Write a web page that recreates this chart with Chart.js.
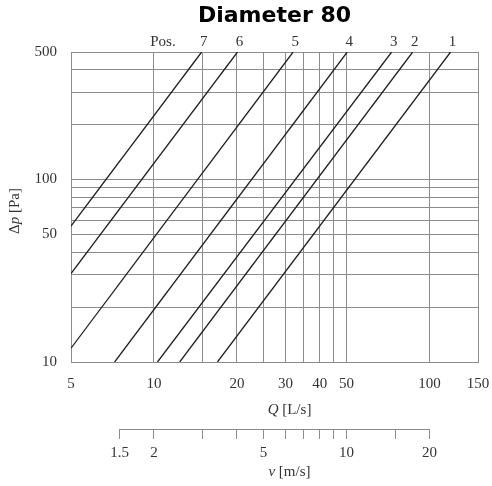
<!DOCTYPE html>
<html lang="en">
<head>
<meta charset="UTF-8">
<title>Diameter 80</title>
<script src="https://cdn.jsdelivr.net/npm/chart.js"></script>
<style>
  * { margin: 0; padding: 0; box-sizing: border-box; }
  body { background: #fff; }
</style>
</head>
<body>
<canvas id="chart" width="492" height="486"></canvas>
<script>
// curve numbers and the two ends of each line (Q in L/s, dp in Pa)
const positions = ['1', '2', '3', '4', '5', '6', '7'];
const lineQ = [[17.0, 119.3], [12.4, 86.9], [10.3, 72.9], [7.2, 50.3], [5, 32.0], [5, 20.1], [5, 14.9]];
const lineDp = [[10, 500], [10, 500], [10, 500], [10, 500], [11.9, 500], [30.5, 500], [55.6, 500]];

// grid / tick values
const qTicks = [5, 10, 15, 20, 25, 30, 35, 40, 45, 50, 100, 150];
const qLabels = [5, 10, 20, 30, 40, 50, 100, 150];
const dpTicks = [10, 20, 30, 40, 50, 60, 70, 80, 90, 100, 200, 300, 400, 500];
const dpLabels = [10, 50, 100, 500];
const vTicks = [1.5, 2, 3, 4, 5, 6, 7, 8, 9, 10, 15, 20];
const vLabels = [1.5, 2, 5, 10, 20];
const qPerV = 5; // L/s per m/s for an 80 mm duct

const serif = '"Liberation Serif", "Times New Roman", serif';
const gridColor = '#8c8c8c';
const textColor = '#333';

// draws a run of text where some pieces are italic
function drawParts(ctx, parts, x, y) {
  let total = 0;
  parts.forEach(p => {
    ctx.font = (p.i ? 'italic ' : '') + '15px ' + serif;
    p.w = ctx.measureText(p.t).width;
    total += p.w;
  });
  let cx = x - total / 2;
  parts.forEach(p => {
    ctx.font = (p.i ? 'italic ' : '') + '15px ' + serif;
    ctx.fillText(p.t, cx, y);
    cx += p.w;
  });
}

const extras = {
  id: 'extras',
  afterDraw(chart) {
    const { ctx, chartArea, scales } = chart;
    const xs = scales.x, vs = scales.v;
    ctx.save();
    ctx.fillStyle = textColor;
    ctx.textBaseline = 'middle';

    // curve numbers above the top edge
    ctx.font = '15px ' + serif;
    ctx.textAlign = 'center';
    const ly = chartArea.top - 10;
    positions.forEach((p, i) => {
      ctx.fillText(p, xs.getPixelForValue(lineQ[i][1]) + 2, ly);
    });
    ctx.textAlign = 'right';
    ctx.fillText('Pos.', xs.getPixelForValue(lineQ[6][1]) - 26, ly);

    // velocity axis line, only between first and last tick
    ctx.strokeStyle = gridColor;
    ctx.lineWidth = 1;
    ctx.beginPath();
    ctx.moveTo(vs.getPixelForValue(vTicks[0]), Math.round(vs.top) + 0.5);
    ctx.lineTo(vs.getPixelForValue(vTicks[vTicks.length - 1]), Math.round(vs.top) + 0.5);
    ctx.stroke();

    // axis titles
    ctx.textAlign = 'left';
    const midX = (chartArea.left + chartArea.right) / 2 + 15;
    drawParts(ctx, [{ t: 'Q', i: true }, { t: ' [L/s]' }], midX, xs.top + 48);
    drawParts(ctx, [{ t: 'v', i: true }, { t: ' [m/s]' }], midX, vs.top + 43);

    ctx.translate(15, (chartArea.top + chartArea.bottom) / 2 + 4);
    ctx.rotate(-Math.PI / 2);
    drawParts(ctx, [{ t: 'Δ' }, { t: 'p', i: true }, { t: ' [Pa]' }], 0, 0);
    ctx.restore();
  }
};

const datasets = positions.map((p, i) => ({
  label: 'Pos. ' + p,
  data: lineQ[i].map((q, j) => ({ x: q, y: lineDp[i][j] })),
  showLine: true,
  borderColor: '#1e1e1e',
  borderWidth: 1.3,
  pointRadius: 0
}));

new Chart(document.getElementById('chart'), {
  type: 'scatter',
  data: { datasets },
  plugins: [extras],
  options: {
    responsive: false,
    animation: false,
    layout: { padding: { right: 14 } },
    plugins: {
      legend: { display: false },
      tooltip: { enabled: false },
      title: {
        display: true,
        text: 'Diameter 80',
        fullSize: false,
        color: '#000',
        font: { family: '"DejaVu Sans", Verdana, sans-serif', size: 22, weight: 'bold' },
        padding: { top: 3, bottom: 22.6 }
      }
    },
    scales: {
      x: {
        type: 'logarithmic',
        position: 'bottom',
        weight: 0,
        min: 5,
        max: 150,
        afterBuildTicks: s => { s.ticks = qTicks.map(v => ({ value: v })); },
        afterFit: s => { s.height = 67; s.paddingRight = 0; },
        ticks: {
          autoSkip: false,
          maxRotation: 0,
          padding: 13,
          color: textColor,
          font: { family: serif, size: 15 },
          callback: v => qLabels.includes(v) ? String(v) : ''
        },
        grid: { color: gridColor, drawTicks: false },
        border: { color: gridColor }
      },
      v: {
        type: 'logarithmic',
        position: 'bottom',
        weight: 1,
        min: 5 / qPerV,
        max: 150 / qPerV,
        afterBuildTicks: s => { s.ticks = vTicks.map(v => ({ value: v })); },
        afterFit: s => { s.height = 57; s.paddingRight = 0; },
        ticks: {
          autoSkip: false,
          maxRotation: 0,
          padding: 5,
          color: textColor,
          font: { family: serif, size: 15 },
          callback: v => vLabels.includes(v) ? String(v) : ''
        },
        grid: { color: gridColor, drawOnChartArea: false, drawTicks: true, tickLength: 10 },
        border: { display: false }
      },
      y: {
        type: 'logarithmic',
        min: 10,
        max: 500,
        afterBuildTicks: s => { s.ticks = dpTicks.map(v => ({ value: v })); },
        afterFit: s => { s.width = 71; },
        ticks: {
          autoSkip: false,
          padding: 14,
          color: textColor,
          font: { family: serif, size: 15 },
          callback: v => dpLabels.includes(v) ? String(v) : ''
        },
        grid: { color: gridColor, drawTicks: false },
        border: { color: gridColor }
      }
    }
  }
});
</script>
</body>
</html>
